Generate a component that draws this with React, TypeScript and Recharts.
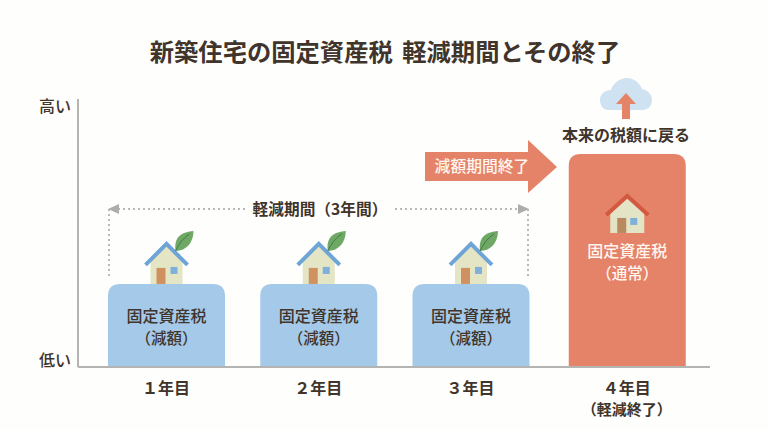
import { BarChart, Bar, XAxis, YAxis } from 'recharts';

const FONT = '"Noto Sans CJK JP", "Noto Sans", sans-serif';
const INK = '#40342b';
const BLUE = '#a5c9e8';
const RED = '#e58369';
const AXIS = '#b4b4b2';
const DOTS = '#b9b9b9';

const categories = ['１年目', '２年目', '３年目', '４年目'];
const categoryNotes = ['', '', '', '（軽減終了）'];
const taxValues = [31, 31, 31, 79.5];
const barTitles = ['固定資産税', '固定資産税', '固定資産税', '固定資産税'];
const barNotes = ['（減額）', '（減額）', '（減額）', '（通常）'];
const yTicks = [0, 100];
const yTickLabels = ['低い', '高い'];

const data = categories.map((year, i) => ({ year, tax: taxValues[i] }));

// the last bar sits a little further right than the even spacing
const lastBarShift = 4;

function ReducedHouse({ cx, top }: { cx: number; top: number }) {
  const y = top - 40;
  return (
    <g>
      <path d={`M${cx - 16} ${y + 14} L${cx} ${y + 1} L${cx + 16} ${y + 14} V${y + 40} H${cx - 16} Z`} fill="#e4e5c4" />
      <rect x={cx - 10} y={y + 24} width={9} height={16} fill="#cf9160" />
      <rect x={cx + 4} y={y + 23} width={7} height={7} fill="#7fb0da" />
      <path d={`M${cx - 21} ${y + 21} L${cx} ${y} L${cx + 21} ${y + 21}`} fill="none" stroke="#6ea5d6" strokeWidth={4} />
      <path d={`M${cx + 9} ${y + 7} C${cx + 7} ${y - 8} ${cx + 16} ${y - 12} ${cx + 27} ${y - 13} C${cx + 27} ${y - 2} ${cx + 20} ${y + 7} ${cx + 9} ${y + 7} Z`} fill="#6fa865" />
      <path d={`M${cx + 9} ${y + 7} Q${cx + 14} ${y - 4} ${cx + 23} ${y - 10}`} fill="none" stroke="#3f7a4b" strokeWidth={1} />
    </g>
  );
}

function NormalHouse({ cx, top }: { cx: number; top: number }) {
  const y = top + 42;
  return (
    <g>
      <path d={`M${cx - 17} ${y + 14} L${cx} ${y + 1} L${cx + 17} ${y + 14} V${y + 37} H${cx - 17} Z`} fill="#e3e3c6" />
      <rect x={cx - 10} y={y + 22} width={9} height={15} fill="#b98a60" />
      <rect x={cx + 3} y={y + 22} width={7} height={7} fill="#7fb0da" />
      <path d={`M${cx - 21} ${y + 19} L${cx} ${y} L${cx + 21} ${y + 19}`} fill="none" stroke="#d2583f" strokeWidth={4} />
    </g>
  );
}

function TaxBar(props: any) {
  const { x, y, width, height, index } = props;
  const isLast = index === categories.length - 1;
  const left = isLast ? x + lastBarShift : x;
  const cx = left + width / 2;
  const r = 12;
  const d = `M${left} ${y + height} V${y + r} Q${left} ${y} ${left + r} ${y} H${left + width - r} Q${left + width} ${y} ${left + width} ${y + r} V${y + height} Z`;
  const textColor = isLast ? '#fff6ef' : INK;
  const titleY = isLast ? y + 99 : y + 34;
  const noteY = isLast ? y + 121 : y + 56;
  return (
    <g>
      <path d={d} fill={isLast ? RED : BLUE} />
      {isLast ? <NormalHouse cx={cx} top={y} /> : <ReducedHouse cx={cx} top={y} />}
      <text x={cx} y={titleY} textAnchor="middle" dominantBaseline="middle" fontSize={16} fontWeight={500} fontFamily={FONT} fill={textColor}>{barTitles[index]}</text>
      <text x={cx} y={noteY} textAnchor="middle" dominantBaseline="middle" fontSize={15.5} fontWeight={500} fontFamily={FONT} fill={textColor}>{barNotes[index]}</text>
    </g>
  );
}

function YearTick({ x, y, payload, index }: any) {
  const shift = index === categories.length - 1 ? lastBarShift : 0;
  return (
    <g>
      <text x={x + shift} y={y + 15} textAnchor="middle" dominantBaseline="middle" fontSize={16} fontWeight={700} fontFamily={FONT} fill={INK}>{payload.value}</text>
      {categoryNotes[index] && (
        <text x={x + shift} y={y + 36} textAnchor="middle" dominantBaseline="middle" fontSize={15} fontWeight={700} fontFamily={FONT} fill={INK}>{categoryNotes[index]}</text>
      )}
    </g>
  );
}

function LevelTick({ x, y, payload }: any) {
  const isLow = payload.value === yTicks[0];
  return (
    <text x={x + 1} y={isLow ? y - 5 : y + 9} textAnchor="end" dominantBaseline="middle" fontSize={16} fontWeight={500} fontFamily={FONT} fill={INK}>
      {yTickLabels[yTicks.indexOf(payload.value)]}
    </text>
  );
}

function Annotations() {
  return (
    <g fontFamily={FONT}>
      <text x={385} y={54} textAnchor="middle" dominantBaseline="middle" fontSize={24.3} fontWeight={700} fill={INK}>
        新築住宅の固定資産税 <tspan dx={4}>軽減期間とその終了</tspan>
      </text>

      {/* 軽減期間 bracket */}
      <path d="M245 209 H117 M109 209 V278 M395 209 H520 M528 209 V278" fill="none" stroke={DOTS} strokeWidth={2} strokeDasharray="2 3" />
      <path d="M108 209 L119 204 V214 Z M529 209 L518 204 V214 Z" fill="#adadad" />
      <text x={320} y={211} textAnchor="middle" dominantBaseline="middle" fontSize={15.7} fontWeight={700} fill={INK}>軽減期間（3年間）</text>

      {/* 減額期間終了 arrow */}
      <path d="M425 152 H528 V140 L557 167 L528 193 V181 H425 Z" fill={RED} />
      <text x={482} y={168} textAnchor="middle" dominantBaseline="middle" fontSize={15.8} fontWeight={500} fill="#fff6ef">減額期間終了</text>

      {/* cloud */}
      <path d="M609 110 C602 110 600 104 600 100 C600 94 605 90 611 90 C613 83 620 78 627 78 C634 78 640 83 642 89 C648 90 652 95 652 100 C652 106 648 110 642 110 Z" fill="#cfe2f2" />
      <path d="M626 93 L636 104 H630 V119 H622 V104 H616 Z" fill={RED} />
      <text x={626} y={137} textAnchor="middle" dominantBaseline="middle" fontSize={16} fontWeight={700} fill={INK}>本来の税額に戻る</text>
    </g>
  );
}

export default function App() {
  return (
    <div style={{ position: 'absolute', left: 0, top: 0, width: 768, height: 429, background: '#fefefd' }}>
      <BarChart
        width={768}
        height={429}
        data={data}
        barSize={117}
        margin={{ top: 99, right: 58, bottom: 0, left: 0 }}
      >
        <XAxis
          dataKey="year"
          height={62}
          padding={{ left: 12, right: 11 }}
          axisLine={{ stroke: AXIS, strokeWidth: 2 }}
          tickLine={false}
          interval={0}
          tick={YearTick}
        />
        <YAxis
          type="number"
          width={78}
          domain={[0, 100]}
          ticks={yTicks}
          axisLine={{ stroke: AXIS, strokeWidth: 2 }}
          tickLine={false}
          tick={LevelTick}
        />
        <Bar dataKey="tax" isAnimationActive={false} shape={TaxBar} />
        <Annotations />
      </BarChart>
    </div>
  );
}
